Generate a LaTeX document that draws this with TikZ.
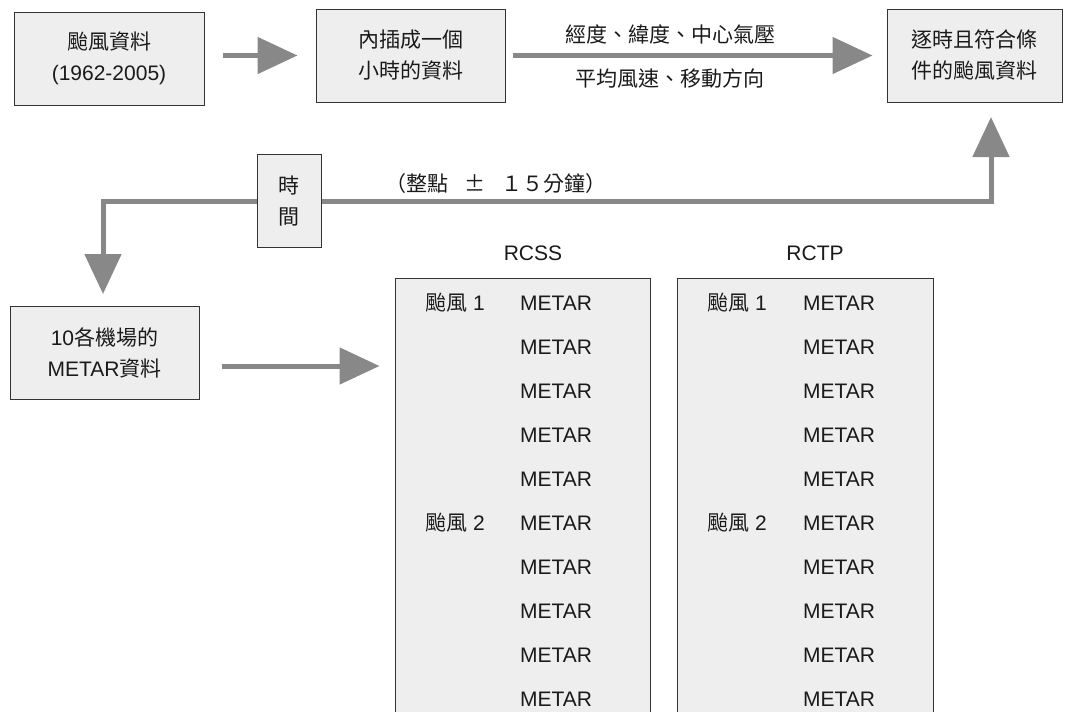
\documentclass[tikz,border=0pt]{standalone}
\usepackage{fontspec}
\setmainfont{Liberation Sans}
\newfontfamily\cjk{Noto Sans CJK TC}
\usetikzlibrary{arrows.meta,calc}
\definecolor{boxfill}{HTML}{EEEEEE}
\definecolor{arrowgray}{HTML}{888888}
\definecolor{boxline}{HTML}{333333}
\definecolor{txt}{HTML}{1A1A1A}
\begin{document}
\begin{tikzpicture}[x=1pt,y=-1pt,
  box/.style={draw=boxline, line width=1pt, fill=boxfill, inner sep=0pt, align=center,
    text=txt, font=\fontsize{21}{31}\selectfont},
  flow/.style={draw=arrowgray, line width=5pt, -{Triangle[length=40pt,width=36pt]}},
  lbl/.style={font=\fontsize{21}{24}\selectfont, inner sep=0pt, text=txt},
]
\useasboundingbox[fill=white] (0,0) rectangle (1068,712);

% boxes
\node[box, minimum width=190pt, minimum height=93pt] (a) at (109,58.5) {{\cjk 颱風資料}\\(1962-2005)};
\node[box, minimum width=189pt, minimum height=93pt] (b) at (410.5,55.5) {{\cjk 內插成一個}\\{\cjk 小時的資料}};
\node[box, minimum width=175pt, minimum height=93pt] (c) at (974.5,55.5) {{\cjk 逐時且符合條}\\{\cjk 件的颱風資料}};
\node[box, minimum width=64pt, minimum height=93pt] (t) at (289,201) {{\cjk 時}\\{\cjk 間}};
\node[box, minimum width=189pt, minimum height=93pt] (d) at (104.5,352.5) {10{\cjk 各機場的}\\METAR{\cjk 資料}};
\node[box, minimum width=255pt, minimum height=462pt] (rcss) at (522.5,509) {};
\node[box, minimum width=256pt, minimum height=462pt] (rctp) at (805,509.5) {};

% labels
\node[lbl] (l1) at (670,34) {\cjk 經度、緯度、中心氣壓};
\node[lbl] (l2) at (670,79) {\cjk 平均風速、移動方向};
\node[lbl] (l3) at (496,184) {{\cjk （整點}\hspace{16pt}{\cjk ±}\hspace{16pt}{\cjk １５分鐘）}};
\node[lbl] (h1) at (533,253) {RCSS};
\node[lbl] (h2) at (815,253) {RCTP};

\node[lbl, anchor=west] (s1) at (425,303) {{\cjk 颱風} 1};
\node[lbl, anchor=west] (s2) at (425,523) {{\cjk 颱風} 2};
\node[lbl, anchor=west] (p1) at (707,303) {{\cjk 颱風} 1};
\node[lbl, anchor=west] (p2) at (707,523) {{\cjk 颱風} 2};
\foreach \i in {0,...,9}{
  \node[lbl, anchor=west] (ms\i) at (520,303+44*\i) {METAR};
  \node[lbl, anchor=west] (mp\i) at (803,303+44*\i) {METAR};
}

% connectors
\coordinate (cu) at (991,102);
\coordinate (dd) at (103,306);
\draw[flow, shorten <=18pt, shorten >=18pt] (a.east |- b.west) -- (b.west);
\draw[flow, shorten <=7pt, shorten >=14pt] (b.east) -- (c.west);
\draw[flow, shorten >=15pt] (t.east) -| (cu);
\draw[flow, shorten >=12pt] (t.west) -| (dd);
\draw[flow] ($(d.east)+(22,13.5)$) -- ($(rcss.west |- d.east)+(-15,13.5)$);
\end{tikzpicture}
\end{document}
